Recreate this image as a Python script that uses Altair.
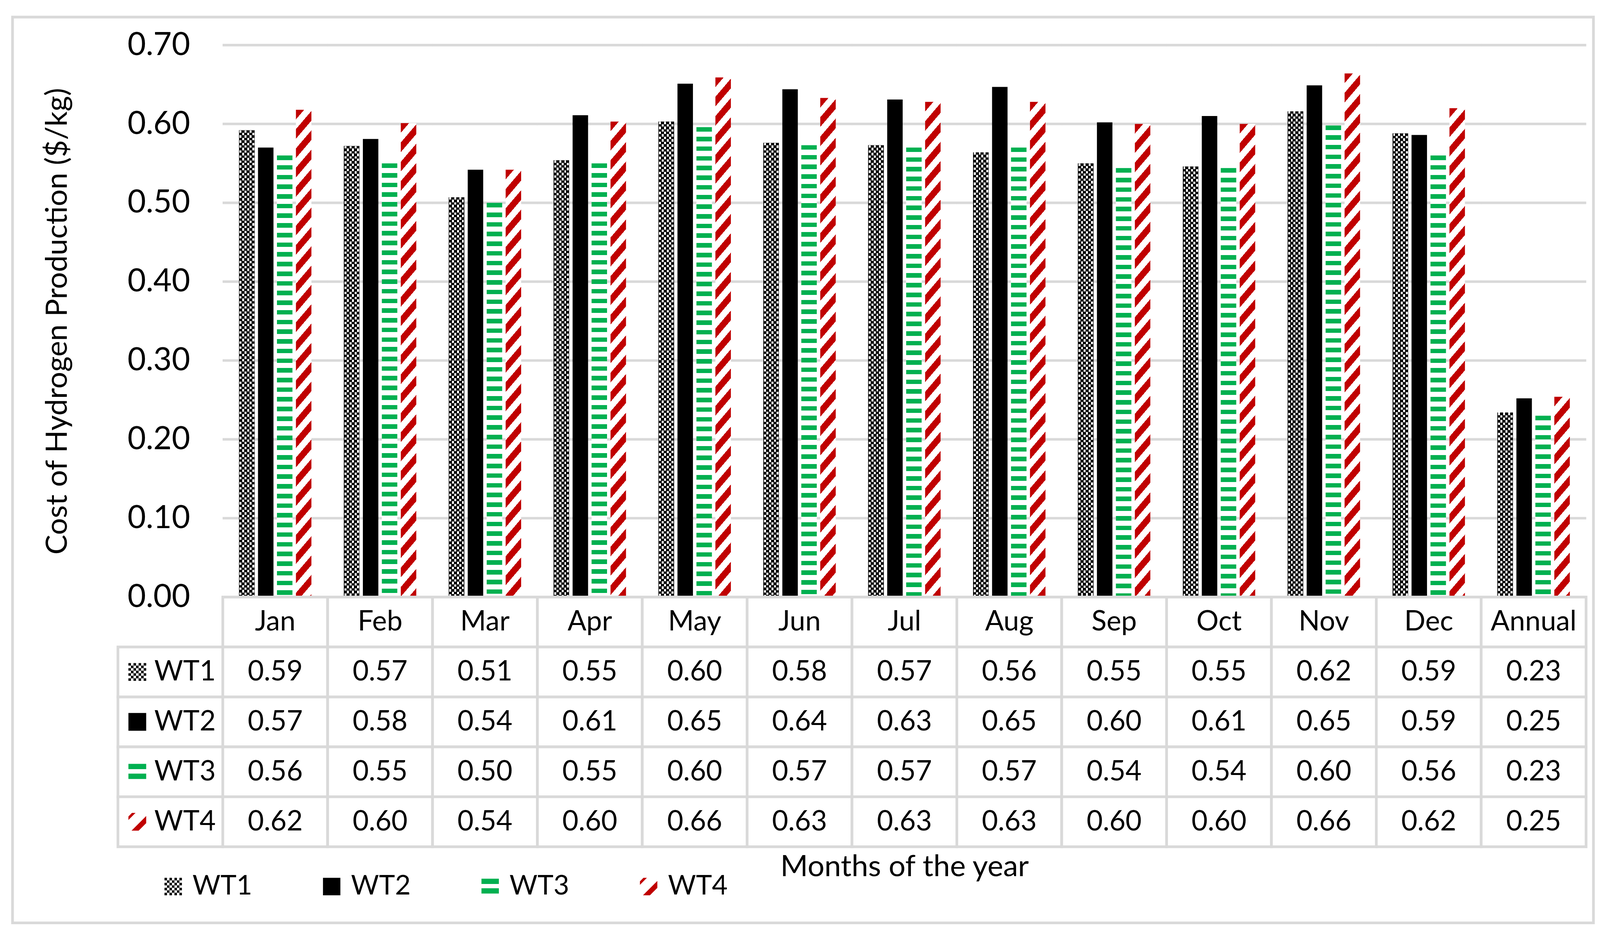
import altair as alt

# ---------------- data ----------------
MONTHS = ["Jan", "Feb", "Mar", "Apr", "May", "Jun", "Jul", "Aug", "Sep", "Oct", "Nov", "Dec", "Annual"]
SERIES = ["WT1", "WT2", "WT3", "WT4"]
WT1 = [0.592, 0.572, 0.507, 0.554, 0.603, 0.576, 0.573, 0.564, 0.550, 0.546, 0.616, 0.588, 0.234]
WT2 = [0.570, 0.581, 0.542, 0.611, 0.651, 0.644, 0.631, 0.647, 0.602, 0.610, 0.649, 0.586, 0.252]
WT3 = [0.560, 0.550, 0.500, 0.550, 0.596, 0.573, 0.570, 0.570, 0.544, 0.544, 0.598, 0.560, 0.230]
WT4 = [0.618, 0.601, 0.542, 0.603, 0.659, 0.633, 0.628, 0.628, 0.600, 0.600, 0.664, 0.620, 0.254]
Y_TICKS = [0.0, 0.1, 0.2, 0.3, 0.4, 0.5, 0.6, 0.7]
Y_TITLE = "Cost of Hydrogen Production ($/kg)"
X_TITLE = "Months of the year"

VALUES = {"WT1": WT1, "WT2": WT2, "WT3": WT3, "WT4": WT4}

# ---------------- style / layout ----------------
FONT = "Lato"
GRID = "#d9d9d9"
BLACK = "#000000"
GREEN = "#00B050"
RED = "#C00000"
CLEAR = "rgba(0,0,0,0)"
SERIES_COLORS = [BLACK, BLACK, GREEN, RED]

KEY_COL = "key"
HEAD_ROW = "head"
LEGEND_ROW = "legend"
COLS = [KEY_COL] + MONTHS
ROWS = [HEAD_ROW] + SERIES + [LEGEND_ROW]

BAND = 271.3
W = BAND * len(COLS)
H = 1428
Y_MAX = 0.7
PI, PO = 0.184, 0.857
BAR_W = BAND / (len(SERIES) - PI + 2 * PO) * (1 - PI)
ROW_H = 129.2
TH = ROW_H * len(ROWS)

CHECK = 13.0     # checker period (px)
STRIPE = 25.0    # horizontal stripe period (px)
DIAG = 50.0      # diagonal vertical period (px)
SLOPE = 1.17


def stripe_stops(n, frac, on, off):
    out = []
    k = 0
    while k < n:
        a = round(k / n, 5)
        b = round(min((k + frac) / n, 1.0), 5)
        c = round(min((k + 1) / n, 1.0), 5)
        out.append({"offset": a, "color": on})
        out.append({"offset": b, "color": on})
        if b < 1.0:
            out.append({"offset": b, "color": off})
            out.append({"offset": c, "color": off})
        k += 1
    return out


def vgrad(stops):
    return {"gradient": "linear", "x1": 1, "y1": 0, "x2": 1, "y2": 1, "stops": stops}


def hgrad(stops):
    return {"gradient": "linear", "x1": 0, "y1": 0, "x2": 1, "y2": 0, "stops": stops}


def dgrad(w, h, slope, stops):
    k = (slope * w + h) / ((slope * w) ** 2 + h ** 2)
    return {"gradient": "linear", "x1": 0, "y1": 0,
            "x2": round(k * slope * w, 6), "y2": round(k * h, 6), "stops": stops}


bar_records = []
for s in SERIES:
    for m, v in zip(MONTHS, VALUES[s]):
        h = v / Y_MAX * H
        rec = {"month": m, "series": s, "value": v}
        if s == "WT1":
            rec["fillA"] = hgrad(stripe_stops(BAR_W / CHECK, 0.5, BLACK, "#ffffff"))
            rec["fillB"] = vgrad(stripe_stops(h / CHECK, 0.5, "#ffffff", CLEAR))
            rec["fillC"] = hgrad(stripe_stops(2 * BAR_W / CHECK, 0.24, BLACK, CLEAR))
        elif s == "WT2":
            rec["fillA"] = BLACK
        elif s == "WT3":
            rec["fillA"] = vgrad(stripe_stops(h / STRIPE, 0.47, GREEN, "#ffffff"))
        else:
            rec["fillA"] = dgrad(BAR_W, h, SLOPE,
                                 stripe_stops((SLOPE * BAR_W + h) / DIAG, 0.5, RED, "#ffffff"))
        bar_records.append(rec)

grid_records = [{"month": m, "tick": t} for m in MONTHS for t in Y_TICKS]

# ---------------- bar panel ----------------
x_scale = alt.Scale(domain=COLS, paddingInner=0, paddingOuter=0)
y_scale = alt.Scale(domain=[0, Y_MAX], nice=False, zero=True)
y_axis = alt.Axis(values=Y_TICKS, format=".2f", grid=False, ticks=False, tickSize=0,
                  domain=False, offset=-BAND, labelPadding=85, labelFont=FONT,
                  labelFontSize=82, labelColor=BLACK, title=Y_TITLE, titleFont=FONT,
                  titleFontSize=77, titleFontWeight="normal", titleColor=BLACK,
                  titlePadding=188)


def bx(field):
    return alt.X(field, type="nominal", scale=x_scale, axis=None)


def by(field):
    return alt.Y(field, type="quantitative", scale=y_scale, axis=y_axis)


xo = alt.XOffset("series:N", scale=alt.Scale(domain=SERIES, paddingInner=PI, paddingOuter=PO))

grid = alt.Chart(alt.Data(values=grid_records)).mark_tick(
    color=GRID, thickness=6.5, size=BAND + 1, opacity=1
).encode(x=bx("month"), y=by("tick"))

bars = alt.Chart(alt.Data(values=bar_records)).mark_bar().encode(
    x=bx("month"), xOffset=xo, y=by("value"),
    color=alt.Color("fillA:N", scale=None)
)

checker = alt.Chart(alt.Data(values=bar_records)).transform_filter(
    alt.datum.series == "WT1"
).mark_bar(blend="difference").encode(
    x=bx("month"), xOffset=xo, y=by("value"),
    color=alt.Color("fillB:N", scale=None)
)

checker_lines = alt.Chart(alt.Data(values=bar_records)).transform_filter(
    alt.datum.series == "WT1"
).mark_bar().encode(
    x=bx("month"), xOffset=xo, y=by("value"),
    color=alt.Color("fillC:N", scale=None)
)

top = alt.layer(grid, bars, checker, checker_lines).properties(width=W, height=H)

# ---------------- table panel ----------------
ty_scale = alt.Scale(domain=ROWS, paddingInner=0, paddingOuter=0)
x_axis = alt.Axis(labels=False, ticks=False, domain=False, grid=False, title=X_TITLE,
                  titleFont=FONT, titleFontSize=77, titleFontWeight="normal",
                  titleColor=BLACK, titleX=BAND + 13 * BAND / 2, titleY=-77,
                  titleBaseline="middle", titleAlign="center", orient="bottom")


def tx(field):
    return alt.X(field, type="nominal", scale=x_scale, axis=x_axis)


def ty(field):
    return alt.Y(field, type="nominal", scale=ty_scale, axis=None)


cell_records = [{"col": m, "row": HEAD_ROW} for m in MONTHS] + \
               [{"col": c, "row": s} for s in SERIES for c in COLS]
cells = alt.Chart(alt.Data(values=cell_records)).mark_rect(
    fill="#ffffff", stroke=GRID, strokeWidth=7
).encode(x=tx("col"), y=ty("row"))

head_records = [{"col": m, "row": HEAD_ROW, "label": m} for m in MONTHS]
head_text = alt.Chart(alt.Data(values=head_records)).mark_text(
    font=FONT, fontSize=72, color=BLACK, baseline="middle", align="center"
).encode(x=tx("col"), y=ty("row"), text="label:N")

val_records = [{"col": m, "row": s, "value": v} for s in SERIES for m, v in zip(MONTHS, VALUES[s])]
val_text = alt.Chart(alt.Data(values=val_records)).mark_text(
    font=FONT, fontSize=72, color=BLACK, baseline="middle", align="center"
).encode(x=tx("col"), y=ty("row"), text=alt.Text("value:Q", format=".2f"))

key_records = [{"col": KEY_COL, "row": s, "series": s} for s in SERIES]
key_text = alt.Chart(alt.Data(values=key_records)).mark_text(
    font=FONT, fontSize=72, color=BLACK, baseline="middle", align="left", dx=-41.5
).encode(x=tx("col"), y=ty("row"), text="series:N")

CHECKER_PATH = " ".join(
    "M{:.3f},{:.3f}h0.2857v0.2857h-0.2857Z".format(-1 + 0.2857 * i, -1 + 0.2857 * j)
    for i in range(7) for j in range(7) if (i + j) % 2 == 0
)
STRIPE_PATH = "M-1,-0.9H1V-0.3H-1Z M-1,0.2H1V0.8H-1Z"
DIAG_PATH = "M-0.6,-1L-0.2,-1L-1,-0.2L-1,-0.6Z M1,-0.65L1,0.15L0.15,1L-0.65,1Z"
SHAPES = [CHECKER_PATH, "square", STRIPE_PATH, DIAG_PATH]

legend = alt.Legend(title=None, orient="none", legendX=108, legendY=714 + H,
                    direction="horizontal", columns=4, labelFont=FONT, labelFontSize=70,
                    labelColor=BLACK, labelOffset=15, columnPadding=170,
                    symbolSize=45 * 45, symbolStrokeWidth=0, padding=0, labelLimit=0)

swatches = alt.Chart(alt.Data(values=key_records)).mark_point(
    filled=True, opacity=1, size=46 * 46, strokeWidth=0, xOffset=-85.5
).encode(
    x=tx("col"), y=ty("row"),
    color=alt.Color("series:N", scale=alt.Scale(domain=SERIES, range=SERIES_COLORS), legend=legend),
    shape=alt.Shape("series:N", scale=alt.Scale(domain=SERIES, range=SHAPES), legend=legend),
)

frame = alt.Chart(alt.Data(values=[{}])).mark_rect(
    fillOpacity=0, stroke=GRID, strokeWidth=7
).encode(
    x=alt.value(-272.7), x2=alt.value(3817.3), y=alt.value(-1500.5), y2=alt.value(843)
)

table = alt.layer(cells, head_text, val_text, key_text, swatches, frame).properties(
    width=W, height=TH
)

chart = alt.vconcat(top, table, spacing=0, bounds="flush").properties(
    padding={"left": 20, "top": 20, "right": 5, "bottom": 5}, background="#ffffff"
).configure(
    font=FONT,
    view=alt.ViewConfig(stroke="transparent", strokeWidth=0),
)

chart.save("out.html", embed_options={"renderer": "svg", "actions": False})
